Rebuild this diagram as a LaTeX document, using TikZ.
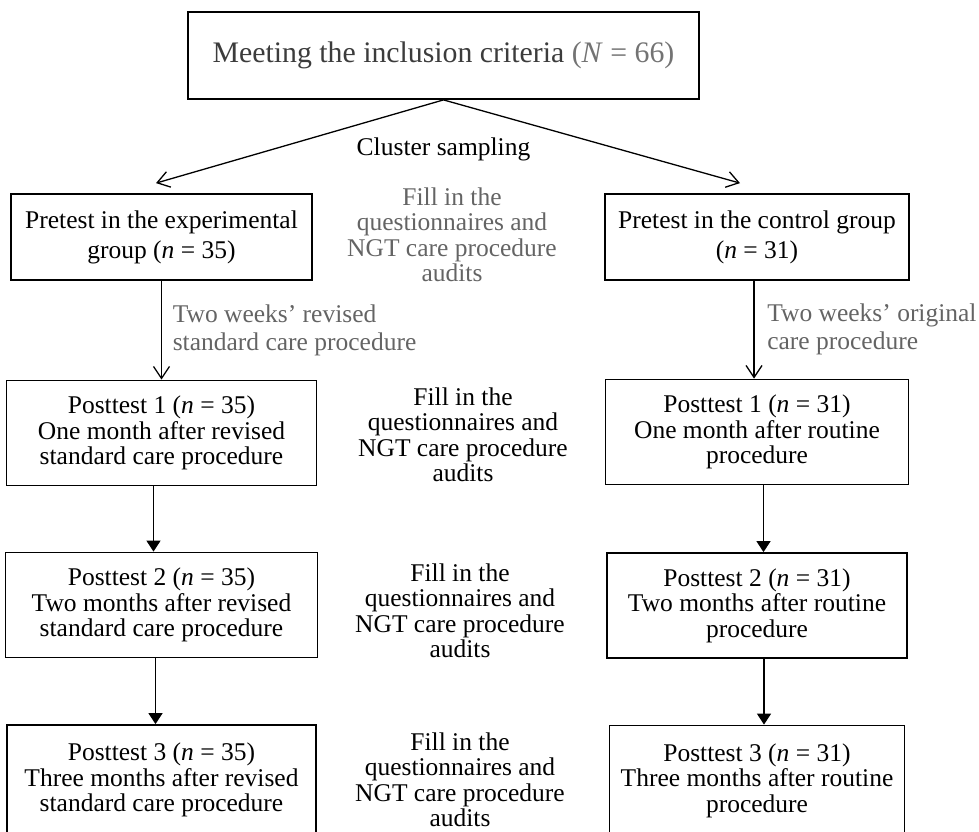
\documentclass[tikz,border=0pt]{standalone}
\usepackage{fontspec}
\setmainfont{Liberation Serif}
\usetikzlibrary{arrows.meta}
\definecolor{mygray}{RGB}{100,100,100}
\definecolor{mydarkgray}{RGB}{60,60,60}
\definecolor{mylightgray}{RGB}{115,115,115}

\begin{document}
\begin{tikzpicture}[x=0.5pt,y=-0.5pt,line width=0.65pt,>={Straight Barb[length=6pt,width=8pt]},
  fulltip/.style={-{Triangle[length=5.5pt,width=7pt]}}]
 \tikzstyle{box}=[draw,line width=0.9pt,align=center,inner sep=2pt,font=\fontsize{12.75}{12.75}\selectfont]
 \tikzstyle{prebox}=[box,minimum height=43pt,font=\fontsize{12.75}{15}\selectfont]
 \tikzstyle{postbox}=[box,minimum height=52.5pt]
 \tikzstyle{note}=[align=center,font=\fontsize{12.75}{12.75}\selectfont]
 \tikzstyle{sidenote}=[align=left,text=mygray,font=\fontsize{12.75}{14}\selectfont]

 \useasboundingbox (0,0) rectangle (979,831);

   \node[box,font=\fontsize{14.9}{18}\selectfont,text=mydarkgray,minimum width=255.5pt,minimum height=43.5pt] (meet) at (443.5,55.5) {Meeting the inclusion criteria {\color{mylightgray}(\textit{N} = 66)}};
   \node[note] (cluster) [below of = meet, node distance=47pt] {Cluster sampling};

   \node[prebox,minimum width=150.5pt] (preexp) at (161.5,237) {Pretest in the experimental\\group (\textit{n} = 35)};
   \node[prebox,minimum width=152pt] (prectl) [right of = preexp, node distance=297.75pt] {Pretest in the control group\\(\textit{n} = 31)};

   \node[postbox,minimum width=155pt] (postexpa) [below of = preexp, node distance=98pt] {Posttest 1 (\textit{n} = 35)\\One month after revised\\standard care procedure};
   \node[postbox,minimum width=156pt] (postexpb) [below of = postexpa, node distance=86pt] {Posttest 2 (\textit{n} = 35)\\Two months after revised\\standard care procedure};
   \node[postbox,minimum width=154.5pt,minimum height=55pt] (postexpc) [below of = postexpb, node distance=87.5pt] {Posttest 3 (\textit{n} = 35)\\Three months after revised\\standard care procedure};

   \node[postbox,minimum width=151.5pt] (postctla) [below of = prectl, node distance=97.5pt] {Posttest 1 (\textit{n} = 31)\\One month after routine\\procedure};
   \node[postbox,minimum width=150pt] (postctlb) [below of = postctla, node distance=86.75pt] {Posttest 2 (\textit{n} = 31)\\Two months after routine\\procedure};
   \node[postbox,minimum width=147.5pt,minimum height=55pt] (postctlc) [below of = postctlb, node distance=87.5pt] {Posttest 3 (\textit{n} = 31)\\Three months after routine\\procedure};

   \node[note,text=mygray] (fillpre) at (452,235) {Fill in the\\questionnaires and\\NGT care procedure\\audits};
   \node[note] (filla) at (463,435) {Fill in the\\questionnaires and\\NGT care procedure\\audits};
   \node[note] (fillb) at (460,611) {Fill in the\\questionnaires and\\NGT care procedure\\audits};
   \node[note] (fillc) at (460,780) {Fill in the\\questionnaires and\\NGT care procedure\\audits};

   \draw[->] (meet.south) -- ([shift={(-2.75pt,5pt)}]preexp.north);
   \draw[->] (meet.south) -- ([shift={(-8.5pt,5pt)}]prectl.north);

   \draw[->] (preexp.south) -- node[sidenote,right=2pt] {Two weeks’ revised\\standard care procedure} (preexp.south |- postexpa.north);
   \draw[->] ([xshift=-1.5pt]prectl.south) -- node[sidenote,right=3pt] {Two weeks’ original\\care procedure} ([xshift=-1.5pt]prectl.south |- postctla.north);

   \draw[fulltip] ([xshift=-4pt]postexpa.south) -- ([xshift=-4pt]postexpa.south |- postexpb.north);
   \draw[fulltip] ([xshift=-3pt]postexpb.south) -- ([xshift=-3pt]postexpb.south |- postexpc.north);
   \draw[fulltip] ([xshift=3.25pt]postctla.south) -- ([xshift=3.25pt]postctla.south |- postctlb.north);
   \draw[fulltip] ([xshift=3.5pt]postctlb.south) -- ([xshift=3.5pt]postctlb.south |- postctlc.north);

\end{tikzpicture}
\end{document}
